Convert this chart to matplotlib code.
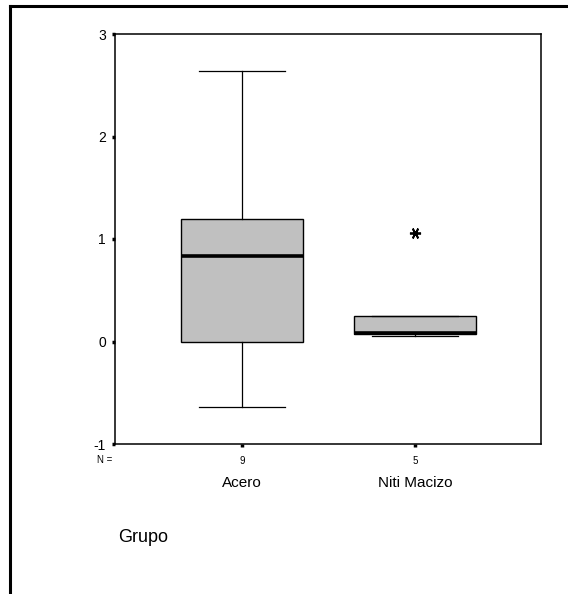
import matplotlib.pyplot as plt
from matplotlib.lines import Line2D

plt.rcParams['font.family'] = ['Liberation Sans', 'DejaVu Sans']

# box plot values
grupos = ['Acero', 'Niti Macizo']
n_casos = [9, 5]
whislo = [-0.64, 0.05]
q1 = [0.0, 0.07]
med = [0.83, 0.085]
q3 = [1.20, 0.245]
whishi = [2.64, 0.245]
atipicos = [[], [1.06]]
yticks = [-1, 0, 1, 2, 3]

stats = []
for i in range(len(grupos)):
    stats.append(dict(whislo=whislo[i], q1=q1[i], med=med[i], q3=q3[i],
                      whishi=whishi[i], fliers=atipicos[i], label=grupos[i]))

fig = plt.figure(figsize=(5.68, 5.94), dpi=100)
# axes box: x 115..541, y 34..444 (pixels)
ax = fig.add_axes([115/568, 1 - 444/594, 426/568, 410/594])

pos = [1, 2]
ax.bxp(stats, positions=pos, widths=0.705, patch_artist=True,
       boxprops=dict(facecolor='#c0c0c0', edgecolor='black', linewidth=1.0),
       medianprops=dict(color='black', linewidth=2.6),
       whiskerprops=dict(color='black', linewidth=0.9),
       capprops=dict(color='black', linewidth=0.9),
       capwidths=0.5,
       flierprops=dict(marker=(6, 2, 90), markersize=8, markeredgecolor='black',
                       markeredgewidth=1.3, linestyle='none'))

ax.set_xlim(0.265, 2.73)
ax.set_ylim(-1, 3)
ax.set_yticks(yticks)
ax.set_yticklabels([str(t) for t in yticks], fontsize=10)
ax.set_xticks(pos)
ax.set_xticklabels([str(n) for n in n_casos], fontsize=7)
ax.tick_params(axis='both', direction='out', length=2.5, width=2.5, color='black')
ax.tick_params(axis='y', pad=4)
ax.tick_params(axis='x', pad=6)
for s in ax.spines.values():
    s.set_linewidth(1.1)

ax.text(-0.005, -0.038, 'N =', transform=ax.transAxes, fontsize=7,
        ha='right', va='center')
for p, g in zip(pos, grupos):
    ax.text(p, -1.38, g, fontsize=11, ha='center', va='center')

fig.text(118/568, 1 - 538/594, 'Grupo', fontsize=13, ha='left', va='center')

# outer frame (top and left edges)
fig.add_artist(Line2D([10/568, 1], [1 - 6/594, 1 - 6/594], color='black',
                      linewidth=2.2, transform=fig.transFigure))
fig.add_artist(Line2D([10/568, 10/568], [0, 1 - 6/594], color='black',
                      linewidth=2.2, transform=fig.transFigure))

fig.savefig('out.png', dpi=100)
